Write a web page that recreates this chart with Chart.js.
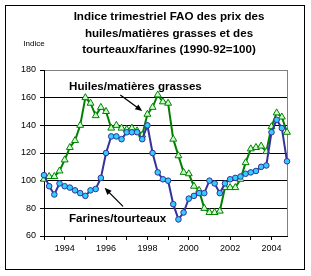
<!DOCTYPE html>
<html><head><meta charset="utf-8">
<script src="https://cdn.jsdelivr.net/npm/chart.js@4"></script>
<style>html,body{margin:0;padding:0;background:#fff}#wrap{position:relative;width:311px;height:276px}</style>
</head><body><div id="wrap"><canvas id="c" width="311" height="276"></canvas></div>
<script>
const quarters = [
 '1993T1','1993T2','1993T3','1993T4','1994T1','1994T2','1994T3','1994T4',
 '1995T1','1995T2','1995T3','1995T4','1996T1','1996T2','1996T3','1996T4',
 '1997T1','1997T2','1997T3','1997T4','1998T1','1998T2','1998T3','1998T4',
 '1999T1','1999T2','1999T3','1999T4','2000T1','2000T2','2000T3','2000T4',
 '2001T1','2001T2','2001T3','2001T4','2002T1','2002T2','2002T3','2002T4',
 '2003T1','2003T2','2003T3','2003T4','2004T1','2004T2','2004T3','2004T4'];
const oils = [101,103,103,107, 115,124,129,140, 160,156,147,153, 150,138,140,138,
              137,138,136,133, 148,153,162,157, 156,130,118,106, 105,96,93,80,
              77,77,78,95, 95,95,101,113, 123,124,125,121, 139,149,146,135];
const meals = [104,96,90,98, 96,95,93,91, 89,93,94,102, 120,132,132,130,
               135,135,135,130, 140,120,106,101, 100,83,72,77, 87,89,91,91,
               100,98,91,98, 101,102,103,105, 106,107,110,111, 135,144,138,114];
const yTicks = [60,80,100,120,140,160,180];
const xTickYears = [1994,1996,1998,2000,2002,2004];
const titleLines = ['Indice trimestriel FAO des prix des','huiles/matières grasses et des','tourteaux/farines (1990-92=100)'];
const yAxisLabel = 'Indice';
const seriesNames = ['Farines/tourteaux','Huiles/matières grasses'];

const qx = q => parseInt(q.slice(0,4),10) + (parseInt(q.slice(5),10)-1)/4;
const toPts = vals => vals.map((v,i)=>({x:qx(quarters[i]), y:v}));

const FONT = "'Liberation Sans', Arial, sans-serif";
const TICKFONT = "'Liberation Sans Narrow', 'Liberation Sans', Arial, sans-serif";

const overlay = {
  id:'overlay',
  beforeDatasetsDraw(chart){
    const {ctx, chartArea:a} = chart;
    ctx.save();
    ctx.strokeStyle='#808080'; ctx.lineWidth=1;
    ctx.beginPath(); ctx.moveTo(Math.round(a.right)+0.5, a.top); ctx.lineTo(Math.round(a.right)+0.5, a.bottom); ctx.stroke();
    ctx.restore();
  },
  afterDatasetsDraw(chart){
    const {ctx, scales:{x,y}} = chart;
    ctx.save();
    ctx.fillStyle='#000'; ctx.strokeStyle='#000';
    ctx.font = "bold 11.6px " + FONT;
    ctx.textBaseline='middle'; ctx.textAlign='left';
    ctx.fillText(seriesNames[1], x.getPixelForValue(1994.21), y.getPixelForValue(168));
    ctx.fillText(seriesNames[0], x.getPixelForValue(1994.21), y.getPixelForValue(72.3));
    const arrow=(x0,y0,x1,y1)=>{
      const X0=x.getPixelForValue(x0),Y0=y.getPixelForValue(y0),X1=x.getPixelForValue(x1),Y1=y.getPixelForValue(y1);
      const ang=Math.atan2(Y1-Y0,X1-X0), L=7, W=3;
      ctx.lineWidth=1.3;
      ctx.beginPath(); ctx.moveTo(X0,Y0); ctx.lineTo(X1-Math.cos(ang)*L*0.8,Y1-Math.sin(ang)*L*0.8); ctx.stroke();
      ctx.beginPath(); ctx.moveTo(X1,Y1);
      ctx.lineTo(X1-Math.cos(ang)*L+Math.sin(ang)*W, Y1-Math.sin(ang)*L-Math.cos(ang)*W);
      ctx.lineTo(X1-Math.cos(ang)*L-Math.sin(ang)*W, Y1-Math.sin(ang)*L+Math.cos(ang)*W);
      ctx.closePath(); ctx.fill();
    };
    arrow(1996.69,161.9,1997.75,150.3);
    arrow(1996.82,81.4,1995.93,94.8);
    ctx.restore();
  },
  afterDraw(chart){
    const {ctx} = chart;
    ctx.save();
    ctx.fillStyle='#000';
    ctx.textAlign='center'; ctx.textBaseline='middle';
    ctx.font = "bold 11.6px " + FONT;
    const ys=[16.7,33.3,49.3];
    titleLines.forEach((t,i)=>ctx.fillText(t,169,ys[i]));
    ctx.font = "8px " + FONT; ctx.textAlign='left';
    ctx.fillText(yAxisLabel, 23.3, 44);
    ctx.strokeStyle='#000'; ctx.lineWidth=1;
    ctx.strokeRect(5.5,5.5,299,264);
    ctx.restore();
  }
};

new Chart(document.getElementById('c'), {
  type:'line',
  data:{datasets:[
    {label:seriesNames[0], data:toPts(meals), borderColor:'#333399', borderWidth:2,
     pointStyle:'circle', pointRadius:2.8, pointBackgroundColor:'#33ccff', pointBorderColor:'#333399', pointBorderWidth:1,
     tension:0, clip:false},
    {label:seriesNames[1], data:toPts(oils), borderColor:'#008000', borderWidth:2,
     pointStyle:'triangle', pointRadius:4, pointBackgroundColor:'#ccffcc', pointBorderColor:'#008000', pointBorderWidth:1,
     tension:0, clip:false}
  ]},
  options:{
    responsive:false, animation:false, devicePixelRatio:1,
    layout:{padding:{left:0, top:70, right:24, bottom:0}},
    plugins:{legend:{display:false}, tooltip:{enabled:false}, title:{display:false}},
    scales:{
      x:{type:'linear', min:1993, max:2004.75,
         afterFit:s=>{s.height=40;},
         ticks:{stepSize:1, includeBounds:false, autoSkip:false, maxRotation:0, padding:3,
                color:'#000', font:{family:TICKFONT, size:9},
                callback:v=>xTickYears.includes(v)?String(v):''},
         grid:{drawOnChartArea:false, drawTicks:true, tickLength:4, tickColor:'#000'},
         border:{color:'#000', width:1}},
      y:{min:60, max:180,
         afterFit:s=>{s.width=44;},
         afterBuildTicks:s=>{s.ticks=yTicks.map(v=>({value:v}));},
         ticks:{padding:4, color:'#000', font:{family:TICKFONT, size:9}},
         grid:{color:c=>(c.tick && c.tick.value===180)?'#808080':'#000', tickColor:'#000', tickLength:4, lineWidth:1},
         border:{color:'#000', width:1}}
    }
  },
  plugins:[overlay]
});
</script></body></html>
